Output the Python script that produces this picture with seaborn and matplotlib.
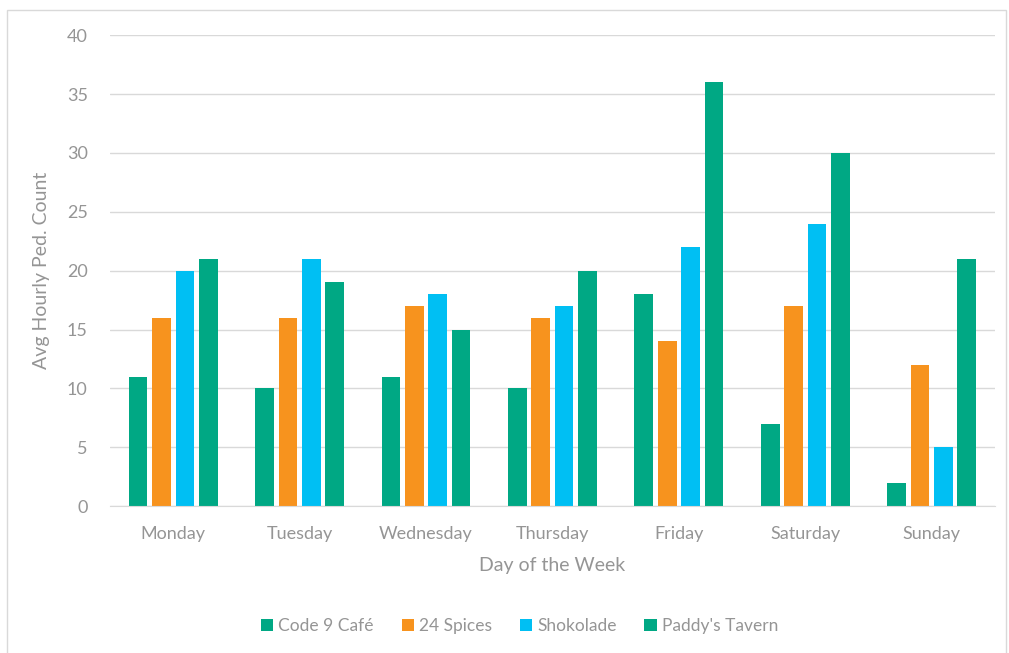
import pandas as pd
import numpy as np
import matplotlib
matplotlib.use('Agg')
import matplotlib.pyplot as plt
from matplotlib.patches import Rectangle
import seaborn as sns

# =========================
# DATA
# =========================

days = ['Monday', 'Tuesday', 'Wednesday', 'Thursday', 'Friday', 'Saturday', 'Sunday']
venues = ['Code 9 Café', '24 Spices', 'Shokolade', "Paddy's Tavern"]

code9 = [11, 10, 11, 10, 18, 7, 2]
spices = [16, 16, 17, 16, 14, 17, 12]
shokolade = [20, 21, 18, 17, 22, 24, 5]
paddys = [21, 19, 15, 20, 36, 30, 21]

colors = ['#00A884', '#F7931E', '#00BFF3', '#00A884']

df = pd.DataFrame({
    'day': days * 4,
    'venue': np.repeat(venues, len(days)),
    'count': code9 + spices + shokolade + paddys,
})

# =========================
# PLOT
# =========================

sns.set_style('white')
plt.rcParams['font.family'] = ['Lato', 'DejaVu Sans']
text_col = '#959595'
grid_col = '#D9D9D9'

fig = plt.figure(figsize=(10.09, 6.53), dpi=100)
ax = fig.add_axes([0.109, 0.225, 0.877, 0.721])

sns.barplot(
    data=df, x='day', y='count', hue='venue',
    order=days, hue_order=venues, palette=colors,
    width=0.74, gap=0.2, saturation=1, linewidth=0, ax=ax
)

ax.set_ylim(0, 40)
ax.set_yticks(range(0, 41, 5))
ax.yaxis.grid(True, color=grid_col, linewidth=1)
ax.set_axisbelow(True)
for s in ['top', 'right', 'left']:
    ax.spines[s].set_visible(False)
ax.spines['bottom'].set_color(grid_col)
ax.tick_params(axis='both', length=0, labelsize=13, colors=text_col)
ax.tick_params(axis='x', pad=14)
ax.tick_params(axis='y', pad=16)

ax.set_xlabel('Day of the Week', fontsize=14, color=text_col, labelpad=11)
ax.set_ylabel('Avg Hourly Ped. Count', fontsize=14, color=text_col, labelpad=12)

handles, labels = ax.get_legend_handles_labels()
ax.legend_.remove()
fig.legend(
    handles, labels, loc='center', bbox_to_anchor=(0.515, 0.041), ncol=4,
    frameon=False, fontsize=12.5, labelcolor=text_col,
    handlelength=0.7, handleheight=0.7, handletextpad=0.3, columnspacing=1.6
)

# chart border
fig.patches.append(Rectangle((0.007, -0.01), 0.990, 0.995, transform=fig.transFigure,
                             fill=False, edgecolor=grid_col, linewidth=1))

fig.savefig('out.png', dpi=100)
